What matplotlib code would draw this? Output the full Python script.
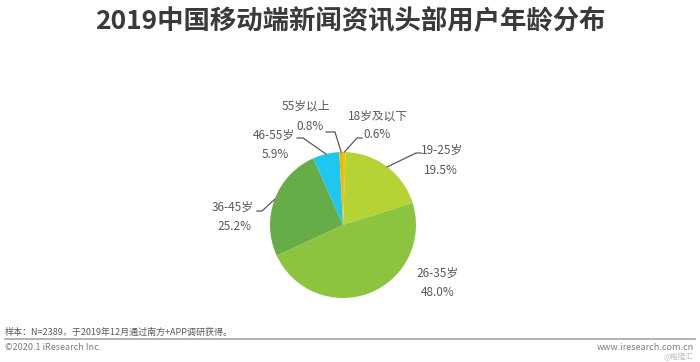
import numpy as np
import matplotlib
matplotlib.use("Agg")
import matplotlib.pyplot as plt
from matplotlib.lines import Line2D

plt.rcParams['font.family'] = ['Noto Sans CJK SC', 'DejaVu Sans']

title = "2019中国移动端新闻资讯头部用户年龄分布"
categories = ["18岁及以下", "19-25岁", "26-35岁", "36-45岁", "46-55岁", "55岁以上"]
values = [0.6, 19.5, 48.0, 25.2, 5.9, 0.8]
colors = ["#f5c400", "#b5d334", "#8cc43f", "#66ad47", "#1fc6ef", "#f2b705"]
note = "样本：N=2389，于2019年12月通过南方+APP调研获得。"
copyright_txt = "©2020.1 iResearch Inc."
site = "www.iresearch.com.cn"

W, H = 700, 362
fig = plt.figure(figsize=(W / 100, H / 100), dpi=100)
fig.patch.set_facecolor("white")

cx, cy, r = 343, 225, 73
ax = fig.add_axes([(cx - r) / W, (H - cy - r) / H, 2 * r / W, 2 * r / H])
wedges, _ = ax.pie(values, colors=colors, startangle=90, counterclock=False,
                   radius=1, wedgeprops=dict(linewidth=0))
ax.set_xlim(-1, 1)
ax.set_ylim(-1, 1)
ax.set_aspect("equal")
ax.axis("off")

# overlay axes in pixel coordinates for labels
ov = fig.add_axes([0, 0, 1, 1], facecolor="none")
ov.set_xlim(0, W)
ov.set_ylim(H, 0)
ov.axis("off")

label_color = "#595959"
# label layout: (name center, value center, elbow, end) in pixels
layout = {
    "18岁及以下": ((378, 116), (377, 135), (357, 138), (362, 138)),
    "19-25岁": ((442, 150), (441, 170), (416, 153), (421, 153)),
    "26-35岁": ((438, 273), (438, 292), None, None),
    "36-45岁": ((233, 207), (234, 226), (262, 211), (257, 211)),
    "46-55岁": ((274, 135), (275, 155), (303, 138), (297, 138)),
    "55岁以上": ((306, 106), (310, 126), (335, 132), (326, 132)),
}

cum = 0
for cat, val in zip(categories, values):
    mid = 90 - (cum + val / 2) / sum(values) * 360
    cum += val
    (nx, ny), (vx, vy), elbow, end = layout[cat]
    ov.text(nx, ny, cat, ha="center", va="center", fontsize=8.5, color=label_color)
    ov.text(vx, vy, f"{val:.1f}%", ha="center", va="center", fontsize=8.5, color=label_color)
    if elbow is not None:
        px, py = ax.transData.transform((np.cos(np.radians(mid)), np.sin(np.radians(mid))))
        ex, ey = ov.transData.inverted().transform((px, py))
        ov.plot([ex, elbow[0], end[0]], [ey, elbow[1], end[1]], color="#595959", lw=0.9)

fig.text(0.5, 1 - 22 / H, title, ha="center", va="center", fontsize=19,
         fontweight="bold", color="#3a3a3a")

fig.text(5 / W, 1 - 332 / H, note, ha="left", va="center", fontsize=6.5, color="#595959")
fig.add_artist(Line2D([5 / W, 695 / W], [1 - 338.5 / H, 1 - 338.5 / H],
                      color="#a6a6a6", lw=1.2, transform=fig.transFigure))
fig.text(5 / W, 1 - 348 / H, copyright_txt, ha="left", va="center", fontsize=6.5, color="#7f7f7f")
fig.text(694 / W, 1 - 347 / H, site, ha="right", va="center", fontsize=6.5, color="#7f7f7f")
fig.text(694 / W, 1 - 357 / H, "@格隆汇", ha="right", va="center", fontsize=5.5, color="#bfbfbf")

fig.savefig("out.png", dpi=100, facecolor="white")
